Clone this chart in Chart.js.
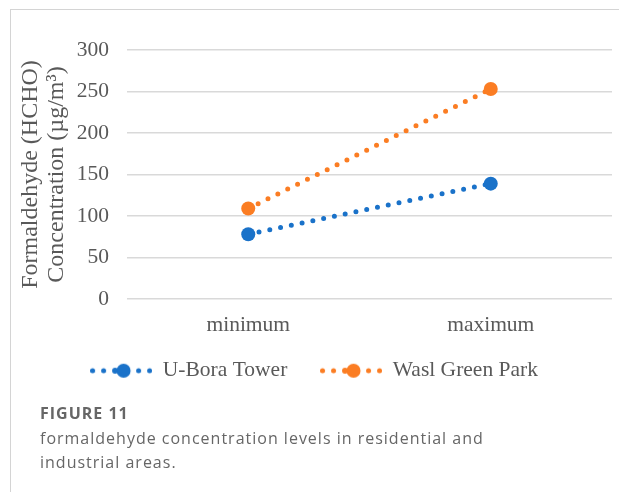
<!DOCTYPE html>
<html>
<head>
<meta charset="utf-8">
<script src="https://cdn.jsdelivr.net/npm/chart.js@4"></script>
<style>
  html, body { margin: 0; padding: 0; background: #fff; }
  body { width: 619px; height: 492px; position: relative; overflow: hidden; }
  .frame { position: absolute; left: 10px; top: 9px; right: -2px; bottom: -2px;
           border-top: 1px solid #d4d4d4; border-left: 1px solid #d4d4d4; }
  .plot { position: absolute; left: 11px; top: 10px; width: 608px; height: 392px; }
  .caption { position: absolute; left: 40px; top: 401px; font-family: "Open Sans", Lato, sans-serif;
             color: #666; letter-spacing: 1px; }
  .caption .fig { font-weight: 700; font-size: 16px; line-height: 25px; }
  .caption .txt { font-size: 16px; line-height: 24px; }
</style>
</head>
<body>
<div class="frame"></div>
<div class="plot"><canvas id="c" width="608" height="392"></canvas></div>
<div class="caption">
  <div class="fig">FIGURE 11</div>
  <div class="txt">formaldehyde concentration levels in residential and<br>industrial areas.</div>
</div>
<script>
// Categories and concentrations (µg/m³)
const categories = ["minimum", "maximum"];
const uBoraTower = [78, 139];
const waslGreenPark = [109, 253];
const yTicks = [0, 50, 100, 150, 200, 250, 300];
const seriesNames = ["U-Bora Tower", "Wasl Green Park"];

const BLUE = "#1a72c9";
const ORANGE = "#fb7d23";
const GREY_TEXT = "#595959";
const SERIF = "'Liberation Serif', 'Times New Roman', serif";

// Legend marker: dotted line with a large dot in the middle
function legendMarker(color) {
  const cv = document.createElement("canvas");
  cv.width = 62; cv.height = 16;
  const g = cv.getContext("2d");
  g.fillStyle = color;
  [2.5, 13.5, 48.5, 59.5].forEach(x => { g.beginPath(); g.arc(x, 8, 2.5, 0, Math.PI * 2); g.fill(); });
  g.beginPath(); g.arc(25, 8, 3, 0, Math.PI * 2); g.fill();
  g.beginPath(); g.arc(33.5, 8, 7, 0, Math.PI * 2); g.fill();
  return cv;
}
const markers = [legendMarker(BLUE), legendMarker(ORANGE)];

function series(label, data, color) {
  return {
    label, data,
    borderColor: color,
    backgroundColor: color,
    borderWidth: 5,
    borderDash: [0, 11],
    borderCapStyle: "round",
    pointRadius: 7,
    pointHoverRadius: 7,
    pointBorderWidth: 0,
    tension: 0,
    fill: false
  };
}

new Chart(document.getElementById("c"), {
  type: "line",
  data: {
    labels: categories,
    datasets: [
      series(seriesNames[0], uBoraTower, BLUE),
      series(seriesNames[1], waslGreenPark, ORANGE)
    ]
  },
  options: {
    responsive: false,
    animation: false,
    events: [],
    layout: { padding: { left: 5, right: 7, top: 40, bottom: 10.5 } },
    scales: {
      x: {
        offset: true,
        grid: { display: false, drawTicks: false },
        border: { display: false },
        ticks: { color: GREY_TEXT, font: { family: SERIF, size: 21.5 }, padding: 13 },
        afterFit: axis => { axis.height = 39; }
      },
      y: {
        min: 0, max: 300,
        afterBuildTicks: axis => { axis.ticks = yTicks.map(v => ({ value: v })); },
        grid: { color: "#d9d9d9", lineWidth: 1.6, drawTicks: false },
        border: { display: false },
        ticks: { color: GREY_TEXT, font: { family: SERIF, size: 21.5 }, padding: 18 },
        title: {
          display: true,
          text: ["Formaldehyde (HCHO)", "Concentration (µg/m³)"],
          color: GREY_TEXT,
          font: { family: SERIF, size: 24, lineHeight: 1.1 },
          padding: { top: 1.5, bottom: 6.5 }
        },
        afterFit: axis => { axis.width = 111; }
      }
    },
    plugins: {
      tooltip: { enabled: false },
      legend: {
        position: "bottom",
        labels: {
          usePointStyle: true,
          pointStyleWidth: 62,
          color: GREY_TEXT,
          font: { family: SERIF, size: 21.5 },
          padding: 22,
          // the en space after the first name widens the gap between the two entries
          generateLabels: chart => chart.data.datasets.map((ds, i) => ({
            text: i === 0 ? ds.label + "\u2002" : ds.label,
            pointStyle: markers[i],
            fillStyle: ds.backgroundColor,
            strokeStyle: ds.borderColor,
            lineWidth: 0,
            fontColor: GREY_TEXT,
            datasetIndex: i
          }))
        }
      }
    }
  }
});
</script>
</body>
</html>
